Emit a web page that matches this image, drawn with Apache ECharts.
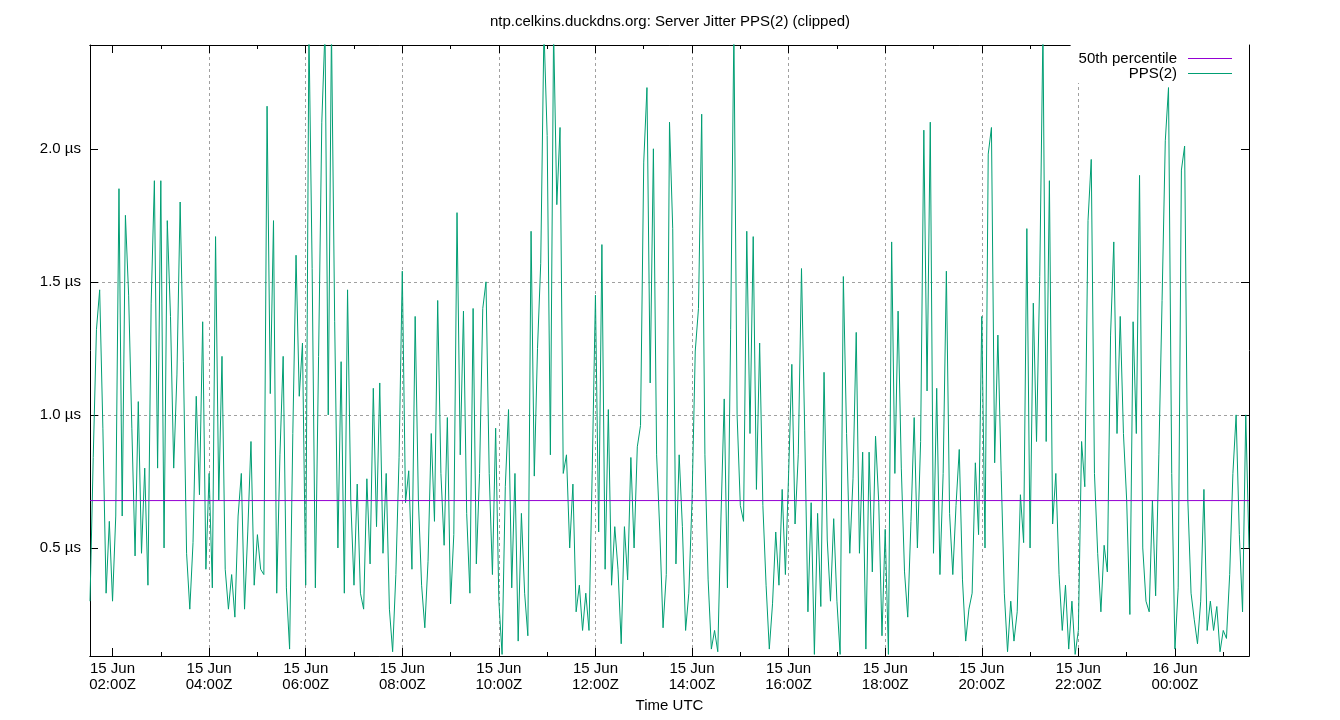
<!DOCTYPE html>
<html><head><meta charset="utf-8">
<script src="https://cdn.jsdelivr.net/npm/echarts@6/dist/echarts.min.js"></script>
<style>html,body{margin:0;padding:0;background:#fff}#c{width:1340px;height:720px}</style>
</head><body><div id="c"></div>
<script>
// Time grid: hours counted from 15 Jun 00:00Z, one sample every 4 minutes
const START_HOUR = 1 + 32 / 60;   // 15 Jun 01:32Z
const STEP_HOUR = 4 / 60;

// PPS(2) server jitter, µs (values above the clip limit run off the top)
const seg01 = [0.3,0.84,1.32,1.47,0.95,0.33,0.6,0.3,0.62,1.85,0.62,1.75,1.45,0.95,0.47,1.05,0.48,0.8,0.36,1.42,1.88,0.8,1.88,0.5,1.73,1.37,0.8,1.15,1.8,1.2,0.48,0.27,0.52,1.07,0.7,1.35,0.42];
const seg02 = [0.78,0.35,1.67,0.68,1.22,0.42,0.27,0.4,0.24,0.62,0.78,0.27,0.56,0.9,0.36,0.55,0.42,0.4,2.16,1.08,1.73,0.33,0.85,1.22,0.35,0.12,0.93,1.6,1.07,1.27,0.36,2.45,1.55,0.35,1.22,2.1];
const seg03 = [2.45,1.0,2.45,1.35,0.5,1.2,0.33,1.47,0.68,0.36,0.74,0.33,0.27,0.76,0.44,1.1,0.58,1.12,0.48,0.78,0.27,0.11,0.4,0.84,1.54,0.67,0.79,0.42,1.37,0.68,0.36,0.2,0.45,0.93,0.6,1.43];
const seg04 = [0.78,0.51,0.99,0.29,0.55,1.76,0.85,1.39,0.63,0.33,1.4,0.44,0.78,1.4,1.5,0.78,0.4,0.95,0.3,0.1,0.73,1.02,0.35,0.78,0.15,0.63,0.33,0.17,1.69,0.77,1.25,1.57,2.45,2.05,0.85,2.45];
const seg05 = [1.79,2.08,0.78,0.85,0.5,0.74,0.26,0.36,0.19,0.33,0.19,0.79,1.45,0.56,1.64,0.42,1.02,0.36,0.58,0.42,0.14,0.58,0.38,0.84,0.5,0.88,0.96,1.95,2.23,1.12,2.0,0.85,0.56,0.2,0.4,2.1];
const seg06 = [1.7,0.44,0.85,0.58,0.19,0.33,0.68,1.24,1.4,2.13,0.85,0.38,0.12,0.19,0.11,0.62,1.06,0.35,1.32,2.45,1.0,0.66,0.6,1.69,0.93,1.67,0.72,1.27,0.66,0.36,0.12,0.29,0.56,0.36,0.72,0.4];
const seg07 = [0.78,1.19,0.59,0.85,1.55,0.94,0.26,0.67,0.1,0.63,0.28,1.16,0.53,0.3,0.61,0.3,0.1,1.52,0.93,0.48,0.76,1.31,0.48,0.86,0.12,0.86,0.41,0.92,0.67,0.17,0.57,0.1,1.65,0.78,1.39,0.8];
const seg08 = [0.41,0.24,0.6,0.99,0.5,0.9,2.07,1.09,2.1,0.48,1.1,0.4,0.78,1.54,0.63,0.4,0.66,0.87,0.38,0.15,0.27,0.33,0.82,0.55,1.37,0.5,1.98,2.08,0.82,1.3,0.79,0.33,0.11,0.3,0.15,0.26];
const seg09 = [0.7,0.52,1.7,0.5,1.42,0.9,1.52,2.45,0.9,1.88,0.59,0.78,0.4,0.19,0.36,0.12,0.3,0.1,0.19,0.9,0.73,1.73,1.96,0.78,0.48,0.26,0.51,0.41,1.3,1.65,0.93,1.37,0.93,0.68,0.25,1.35];
const seg10 = [0.93,1.9,0.5,0.3,0.26,0.68,0.32,0.85,1.43,2.03,2.23,0.78,0.12,0.35,1.92,2.01,0.68,0.33,0.23,0.14,0.3,0.72,0.19,0.3,0.19,0.28,0.11,0.19,0.16,0.4,0.78,1.0,0.55,0.26,1.0,0.5];
const jitter = [].concat(seg01,seg02,seg03,seg04,seg05,seg06,seg07,seg08,seg09,seg10);

const median50 = 0.678;
const majorHours = [2,4,6,8,10,12,14,16,18,20,22,24];
const minorHours = [3,5,7,9,11,13,15,17,19,21,23,25];
const yTicks = [0.5,1.0,1.5,2.0];
const X_MIN = START_HOUR, X_MAX = START_HOUR + 24;
const Y_MIN = 0.094, Y_MAX = 2.39;

const FONT = '"Liberation Sans", Arial, sans-serif';
const gridLine = {color:'#a0a0a0', width:1, type:[3,3]};
const MEDIAN_COLOR = '#9400d3';
const PPS_COLOR = '#009e73';

function timeLabel(v){
  const h = Math.round(v);
  const day = 15 + Math.floor(h / 24);
  const hh = String(h % 24).padStart(2,'0');
  return day + ' Jun\n' + hh + ':00Z';
}

function xAx(pos, ticks, len, main){
  return {
    type:'value', position:pos, min:X_MIN, max:X_MAX, splitNumber:12,
    axisLine:{show:true, onZero:false, lineStyle:{color:'#000', width:1}},
    axisTick:{show:true, inside:true, length:len, customValues:ticks, lineStyle:{color:'#000', width:1}},
    axisLabel: main ? {show:true, customValues:majorHours, formatter:timeLabel, color:'#000', fontFamily:FONT, fontSize:15, lineHeight:16, margin:5}
                    : {show:false},
    splitLine: main ? {show:true, showMinLine:false, showMaxLine:false, lineStyle:gridLine} : {show:false},
    name: main ? 'Time UTC' : '', nameLocation:'middle', nameGap:42,
    nameTextStyle:{color:'#000', fontFamily:FONT, fontSize:15}
  };
}
function yAx(pos, main){
  return {
    type:'value', position:pos, min:Y_MIN, max:Y_MAX, splitNumber:5,
    axisLine:{show:true, onZero:false, lineStyle:{color:'#000', width:1}},
    axisTick:{show:true, inside:true, length:8, customValues:yTicks, lineStyle:{color:'#000', width:1}},
    axisLabel: main ? {show:true, customValues:yTicks, formatter:v => v.toFixed(1) + ' µs', color:'#000', fontFamily:FONT, fontSize:15, margin:9}
                    : {show:false},
    splitLine: main ? {show:true, showMinLine:false, showMaxLine:false, lineStyle:gridLine} : {show:false}
  };
}

const chart = echarts.init(document.getElementById('c'), null, {renderer:'canvas'});
chart.setOption({
  animation:false,
  backgroundColor:'#fff',
  title:{text:'ntp.celkins.duckdns.org: Server Jitter PPS(2) (clipped)', left:'center', top:9,
    textStyle:{color:'#000', fontFamily:FONT, fontSize:15, fontWeight:'normal'}},
  grid:{left:90, right:91, top:45, bottom:64, containLabel:false},
  legend:{
    orient:'vertical', right:91, top:45, align:'right', selectedMode:false,
    data:[
      {name:'50th percentile', itemStyle:{color:MEDIAN_COLOR, borderWidth:0}},
      {name:'PPS(2)', itemStyle:{color:PPS_COLOR, borderWidth:0}}
    ],
    icon:'rect', itemWidth:44, itemHeight:1, itemGap:0,
    backgroundColor:'#fff', padding:[6,17,2,8],
    textStyle:{color:'#000', fontFamily:FONT, fontSize:15, lineHeight:15, padding:[0,6,0,0]}
  },
  xAxis:[ xAx('bottom', majorHours, 8, true), xAx('bottom', minorHours, 4, false),
          xAx('top', majorHours, 8, false), xAx('top', minorHours, 4, false) ],
  yAxis:[ yAx('left', true), yAx('right', false) ],
  series:[
    {name:'50th percentile', type:'line', xAxisIndex:0, yAxisIndex:0, symbol:'none', silent:true, z:3,
     data:[[X_MIN, median50],[X_MAX, median50]],
     lineStyle:{color:MEDIAN_COLOR, width:1}, itemStyle:{color:MEDIAN_COLOR}},
    {name:'PPS(2)', type:'line', xAxisIndex:0, yAxisIndex:0, symbol:'none', silent:true, z:2,
     data:jitter.map((v,i) => [START_HOUR + i*STEP_HOUR, v]),
     lineStyle:{color:PPS_COLOR, width:1}, itemStyle:{color:PPS_COLOR}}
  ]
});
</script></body></html>
